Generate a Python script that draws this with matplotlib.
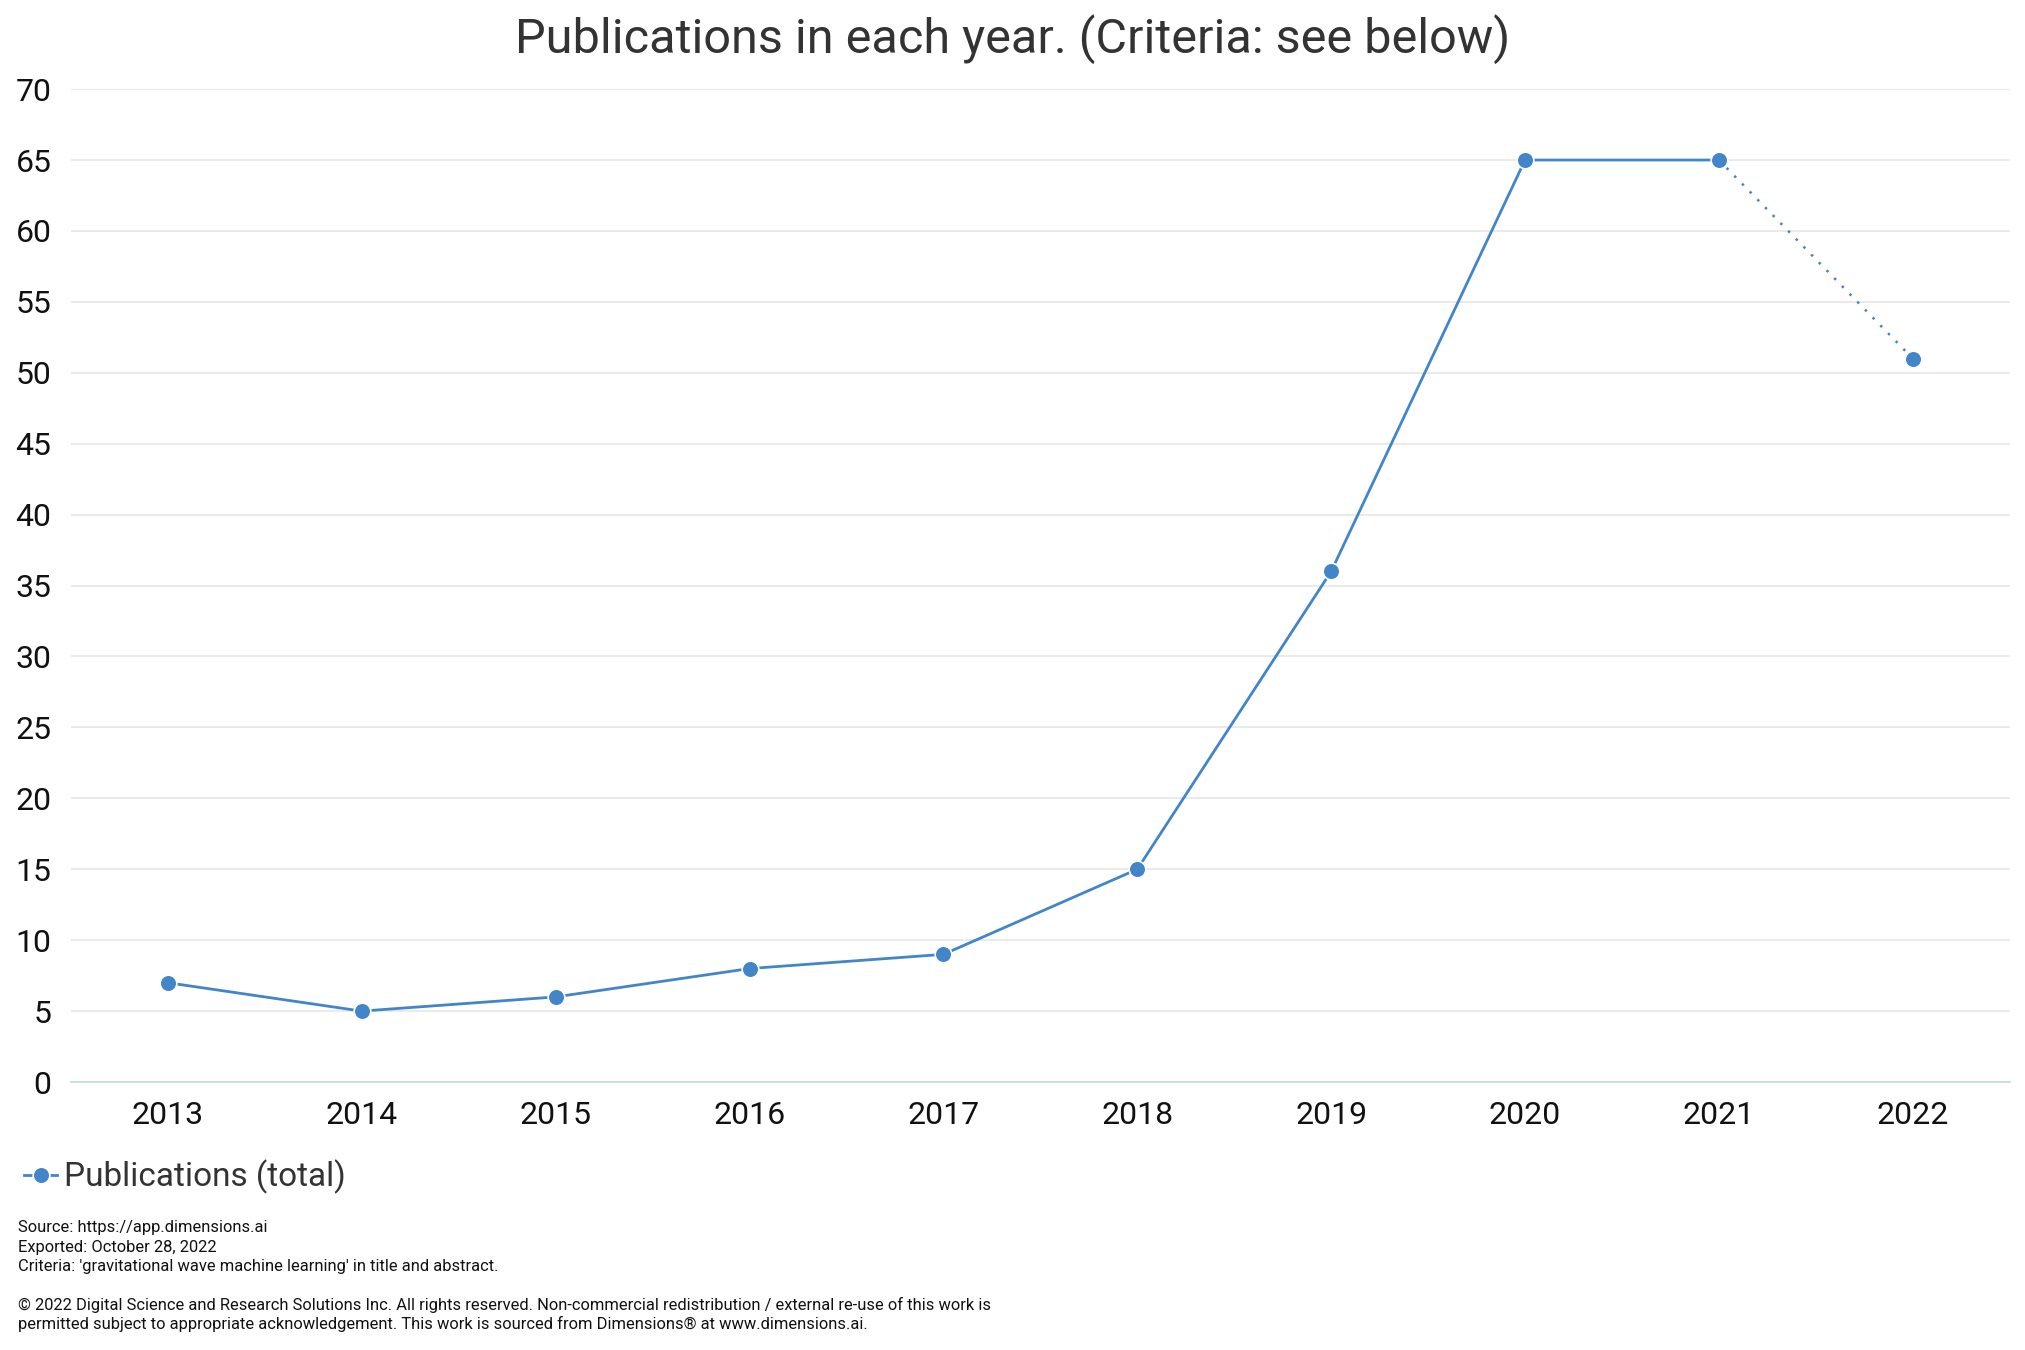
import matplotlib
matplotlib.use("Agg")
import matplotlib.pyplot as plt
from matplotlib.lines import Line2D

plt.rcParams['font.family'] = ['Roboto', 'DejaVu Sans']

# data
years = [2013, 2014, 2015, 2016, 2017, 2018, 2019, 2020, 2021, 2022]
publications = [7, 5, 6, 8, 9, 15, 36, 65, 65, 51]
y_ticks = [0, 5, 10, 15, 20, 25, 30, 35, 40, 45, 50, 55, 60, 65, 70]

title = "Publications in each year. (Criteria: see below)"
series_name = "Publications (total)"
footer = [
    "Source: https://app.dimensions.ai",
    "Exported: October 28, 2022",
    "Criteria: 'gravitational wave machine learning' in title and abstract.",
    "",
    "\u00a9 2022 Digital Science and Research Solutions Inc. All rights reserved. Non-commercial redistribution / external re-use of this work is",
    "permitted subject to appropriate acknowledgement. This work is sourced from Dimensions\u00ae at www.dimensions.ai.",
]

blue = '#4285c9'

fig = plt.figure(figsize=(20.25, 13.5), dpi=100)
ax = fig.add_axes([0.035, 0.1985, 0.9575, 0.7355])

# solid part (complete years), dotted part for the current year
ax.plot(years[:-1], publications[:-1], color=blue, lw=2.0, zorder=3)
ax.plot(years[-2:], publications[-2:], color=blue, lw=1.8,
        linestyle=(0, (1, 3.4)), zorder=3)
ax.plot(years, publications, linestyle='none', marker='o', markersize=12,
        markerfacecolor=blue, markeredgecolor='white', markeredgewidth=1.2,
        zorder=4)

ax.set_xlim(2012.5, 2022.5)
ax.set_ylim(0, 70)
ax.set_xticks(years)
ax.set_xticklabels([str(y) for y in years])
ax.set_yticks(y_ticks)
ax.tick_params(axis='both', length=0, labelsize=23, colors='#111111')
ax.tick_params(axis='x', pad=14)
ax.tick_params(axis='y', pad=14)
ax.grid(axis='y', color='#e6e6e6', lw=1.2)
ax.set_axisbelow(True)
for s in ['top', 'right', 'left']:
    ax.spines[s].set_visible(False)
ax.spines['bottom'].set_color('#c5d6ea')
ax.spines['bottom'].set_linewidth(1.2)

fig.text(0.5, 0.971, title, ha='center', va='center', fontsize=35, color='#333333')

handle = Line2D([], [], color=blue, lw=2.0, marker='o', markersize=12,
                markerfacecolor=blue, markeredgecolor='white', markeredgewidth=1.2)
fig.legend([handle], [series_name], loc='center left', bbox_to_anchor=(-0.003, 0.128),
           frameon=False, fontsize=24, handlelength=1.0, handletextpad=0.2,
           labelcolor='#333333')

y = 0.0905
for line in footer:
    fig.text(0.009, y, line, ha='left', va='center', fontsize=11.9, color='#111111')
    y -= 0.0143

fig.savefig('out.png', dpi=100)
